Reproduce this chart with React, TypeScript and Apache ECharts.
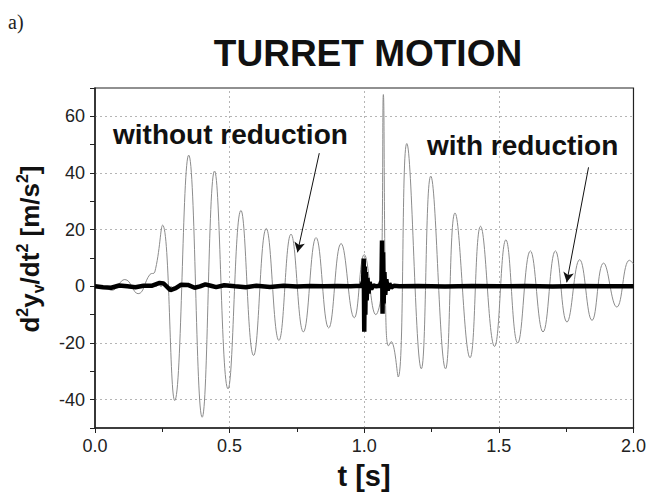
import React, { useEffect, useRef } from "react";
import * as echarts from "echarts";

// "without reduction" (thin grey) – extremes
const THIN_T = [0.0, 0.035, 0.062, 0.111, 0.16, 0.204, 0.222, 0.251, 0.296, 0.348, 0.398, 0.444, 0.494, 0.542, 0.589, 0.636, 0.683, 0.728, 0.774, 0.821, 0.868, 0.914, 0.963, 1.0, 1.043, 1.063, 1.071, 1.08, 1.09, 1.1, 1.126, 1.158, 1.212, 1.247, 1.302, 1.337, 1.393, 1.432, 1.484, 1.526, 1.57, 1.617, 1.664, 1.71, 1.753, 1.8, 1.846, 1.889, 1.938, 1.985, 2.0];
const THIN_V = [0, -0.2, -1.4, 2.4, -2.6, 4.2, 5.0, 21.6, -40.3, 46.3, -46.2, 40.7, -36.2, 26.8, -24.4, 20.4, -19.1, 18.4, -16.1, 17.2, -14.7, 15.1, -11.1, 11.2, -10.0, -2.0, 67.7, -10.0, -21.0, -19.5, -32.0, 50.4, -29.1, 38.9, -29.1, 25.9, -25.2, 21.2, -21.2, 16.4, -20.0, 12.5, -16.1, 12.5, -12.6, 9.4, -12.0, 8.2, -7.3, 9.2, 8.0];

// "with reduction" (thick black)
const THICK_T = [0.0, 0.03, 0.06, 0.09, 0.12, 0.15, 0.18, 0.21, 0.24, 0.255, 0.28, 0.3, 0.32, 0.345, 0.37, 0.39, 0.41, 0.43, 0.45, 0.48, 0.52, 0.56, 0.6, 0.65, 0.7, 0.75, 0.8, 0.85, 0.9, 0.95, 0.99, 0.996, 0.998, 1.0, 1.002, 1.004, 1.006, 1.009, 1.012, 1.016, 1.02, 1.026, 1.034, 1.045, 1.058, 1.064, 1.066, 1.068, 1.07, 1.072, 1.075, 1.078, 1.082, 1.087, 1.093, 1.1, 1.11, 1.13, 1.2, 1.3, 1.4, 1.5, 1.6, 1.7, 1.8, 1.9, 2.0];
const THICK_V = [0, -0.3, -0.5, 0.3, 0, -0.3, 0.2, 0.2, 1.2, 1.0, -1.3, -0.6, 0.6, 0.5, -0.5, 0, 0.7, 0.2, -0.3, 0.4, 0, -0.3, 0.2, -0.2, 0.2, -0.1, 0.1, 0, 0.1, 0, 0.2, 2, 9.8, -16, 7, -10, 5, -5, 3, -2.5, 1.5, -1, 0.3, 0, 0.2, 2, 16.2, -9.7, 12, -6, 5, -3, 2.5, -1.5, 1, -0.5, 0.2, 0, 0.1, -0.1, 0.1, 0, 0.1, -0.1, 0.1, 0, 0];

const GRID_X = [0.5, 1.0, 1.5];
const GRID_Y = [-40, -20, 0, 20, 40, 60];

const TITLE = "TURRET MOTION";
const LABEL_WITHOUT = "without reduction";
const LABEL_WITH = "with reduction";
// arrows: [from, to] in data coordinates
const ARROW_WITHOUT = [[0.833, 47], [0.752, 12]];
const ARROW_WITH = [[1.833, 42], [1.752, 1.4]];

const SANS = "'Liberation Sans', Arial, sans-serif";

export default function App() {
  const ref = useRef<HTMLDivElement>(null);
  useEffect(() => {
    if (!ref.current) return;
    const chart = echarts.init(ref.current, undefined, { renderer: "svg" });
    const thin = THIN_T.map((t, i) => [t, THIN_V[i]]);
    const thick = THICK_T.map((t, i) => [t, THICK_V[i]]);
    chart.setOption({
      animation: false,
      backgroundColor: "#ffffff",
      grid: { left: 95, right: 15, top: 88, bottom: 65, show: true, borderColor: "#222", borderWidth: 1.2, backgroundColor: "transparent" },
      xAxis: {
        type: "value", min: 0, max: 2, interval: 0.5,
        axisLine: { onZero: false, lineStyle: { color: "#222", width: 1.5 } },
        axisTick: { show: true, length: 5, lineStyle: { color: "#222" } },
        minorTick: { show: true, splitNumber: 2, length: 4, lineStyle: { color: "#222" } },
        axisLabel: { formatter: (v: number) => v.toFixed(1), fontSize: 18, color: "#222", fontFamily: SANS, margin: 9 },
        splitLine: { show: false },
      },
      yAxis: {
        type: "value", min: -50, max: 70, interval: 10,
        axisLine: { onZero: false, lineStyle: { color: "#222", width: 1.5 } },
        axisTick: { show: true, length: 5, lineStyle: { color: "#222" } },
        axisLabel: { formatter: (v: number) => (v % 20 === 0 ? String(v) : ""), fontSize: 18, color: "#222", fontFamily: SANS, margin: 10 },
        splitLine: { show: false },
      },
      series: [
        {
          type: "line", data: [], z: 1, silent: true,
          markLine: {
            z: 0, silent: true, symbol: "none", label: { show: false },
            lineStyle: { type: [2, 3], color: "#b5b5b5", width: 1 },
            data: [...GRID_X.map((x) => ({ xAxis: x })), ...GRID_Y.map((y) => ({ yAxis: y }))],
          },
        },
        {
          name: LABEL_WITHOUT, type: "line", data: thin, showSymbol: false, smooth: 0.45, z: 2,
          lineStyle: { color: "#8c8c8c", width: 1 },
        },
        {
          name: LABEL_WITH, type: "line", data: thick, showSymbol: false, z: 3,
          lineStyle: { color: "#000", width: 4.5 },
        },
        {
          type: "line", data: [], z: 4, silent: true,
          markLine: {
            z: 6, silent: true, symbol: ["none", "arrow"], symbolSize: [8, 10], label: { show: false },
            lineStyle: { type: "solid", color: "#111", width: 1 },
            data: [
              [{ coord: ARROW_WITHOUT[0] }, { coord: ARROW_WITHOUT[1] }],
              [{ coord: ARROW_WITH[0] }, { coord: ARROW_WITH[1] }],
            ],
          },
        },
      ],
      graphic: [
        { type: "text", x: 8, y: 22, style: { text: "a)", font: "20px 'Liberation Serif', serif", fill: "#222", verticalAlign: "middle" } },
        { type: "text", x: 368, y: 53, style: { text: TITLE, fontFamily: SANS, fontWeight: "bold", fontSize: 37, fill: "#111", align: "center", verticalAlign: "middle" } },
        { type: "text", x: 113, y: 134, z: 10, style: { text: LABEL_WITHOUT, fontFamily: SANS, fontWeight: "bold", fontSize: 28, fill: "#111", align: "left", verticalAlign: "middle" } },
        { type: "text", x: 427, y: 145, z: 10, style: { text: LABEL_WITH, fontFamily: SANS, fontWeight: "bold", fontSize: 28, fill: "#111", align: "left", verticalAlign: "middle" } },
        { type: "text", x: 364, y: 476, style: { text: "t [s]", fontFamily: SANS, fontWeight: "bold", fontSize: 29, fill: "#111", align: "center", verticalAlign: "middle" } },
        {
          type: "text", x: 30, y: 249, rotation: Math.PI / 2,
          style: {
            text: "{b|d}{sup|2}{b|y}{sub|v}{b|/dt}{sup|2}{b| [m/s}{sup|2}{b|]}",
            align: "center", verticalAlign: "middle", fill: "#111",
            rich: {
              b: { fontFamily: SANS, fontWeight: "bold", fontSize: 26, lineHeight: 32, fill: "#111" },
              sup: { fontFamily: SANS, fontWeight: "bold", fontSize: 16, lineHeight: 18, verticalAlign: "top", fill: "#111" },
              sub: { fontFamily: SANS, fontWeight: "bold", fontSize: 16, lineHeight: 18, verticalAlign: "bottom", fill: "#111" },
            },
          },
        },
      ],
    });
    return () => chart.dispose();
  }, []);
  return <div ref={ref} style={{ width: 649, height: 493, position: "absolute", left: 0, top: 0 }} />;
}
